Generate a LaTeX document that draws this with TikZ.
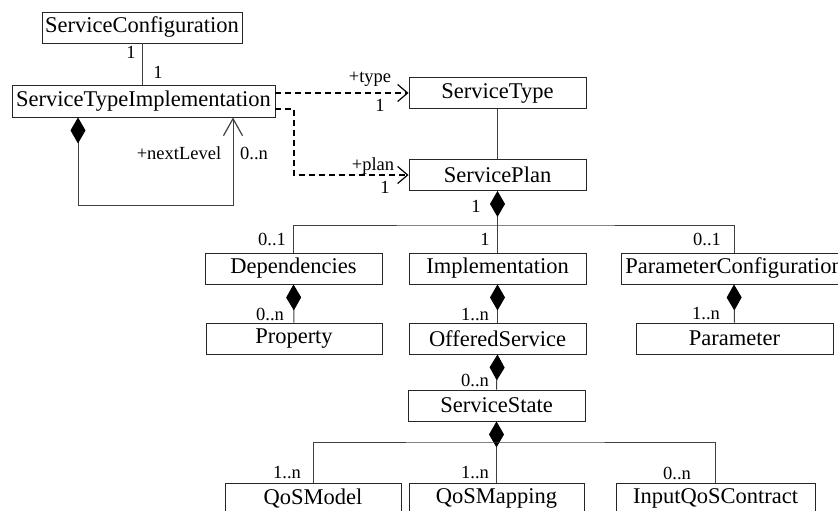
\documentclass[tikz,border=0pt]{standalone}
\usepackage{fontspec}
\setmainfont{Liberation Serif}
\usetikzlibrary{arrows.meta}
\begin{document}
\begin{tikzpicture}[x=1pt,y=-1pt,
  cls/.style={draw=black!85,line width=0.9pt,fill=white,inner sep=0pt,
    minimum height=31pt,font=\fontsize{22.5}{26}\selectfont},
  lbl/.style={inner sep=0pt,font=\fontsize{18.5}{21}\selectfont},
  conn/.style={draw=black!75,line width=1pt},
  comp/.style={conn,{Diamond[length=26pt,width=15pt,fill=black,color=black]}-},
  dep/.style={draw=black,line width=2pt,dash pattern=on 6pt off 4pt,
    -{Straight Barb[length=10pt,width=17pt,line width=1.2pt]}},
  loopnav/.style={conn,{Diamond[length=26pt,width=15pt,fill=black,color=black]}-{Straight Barb[length=17pt,width=19pt,line width=1.2pt]}}
]
\useasboundingbox (0,0) rectangle (838,511);
\clip (0,0) rectangle (838,511);

% classes
\node[cls,minimum width=200pt] (sc)   at (142,27.5)  {ServiceConfiguration};
\node[cls,minimum width=263pt,minimum height=32pt] (sti) at (143.5,101) {ServiceTypeImplementation};
\node[cls,minimum width=177pt] (st)   at (497.5,93)    {ServiceType};
\node[cls,minimum width=177pt] (sp)   at (497.5,175)   {ServicePlan};
\node[cls,minimum width=177pt] (dp)   at (293.5,268.5) {Dependencies};
\node[cls,minimum width=177pt] (impl) at (497.5,268.5) {Implementation};
\node[cls,minimum width=226pt] (pc)   at (734,268.5)   {ParameterConfiguration};
\node[cls,minimum width=176pt] (prop) at (294,338.5)   {Property};
\node[cls,minimum width=177pt] (off)  at (497.5,338.5) {OfferedService};
\node[cls,minimum width=197pt] (par)  at (734.5,338.5) {Parameter};
\node[cls,minimum width=177pt] (ss)   at (496.5,405.5) {ServiceState};
\node[cls,minimum width=176pt] (qm)   at (313,498.5)   {QoSModel};
\node[cls,minimum width=175pt] (qmap) at (496.5,498.5) {QoSMapping};
\node[cls,minimum width=199pt] (iqc)  at (715.5,498.5) {InputQoSContract};

% routing points
\coordinate (plk)  at (294,109);
\coordinate (lpA)  at (78,205);
\coordinate (lpB)  at (233,205);
\coordinate (bar1) at (497.5,225);
\coordinate (bar2) at (496.5,442);

% ServiceConfiguration -- ServiceTypeImplementation
\draw[conn] (sc.south) -- (sc.south |- sti.north);
\node[lbl] (m1) at (131,52) {1};
\node[lbl] (m2) at (158,72) {1};

% dependencies to ServiceType and ServicePlan
\draw[dep] (sti.east |- st.west) -- (st.west);
\node[lbl] (rt) at (370,79) {+type};
\node[lbl] (m3) at (380,105) {1};
\draw[dep] (plk -| sti.east) -- (plk) |- (sp.west);
\node[lbl] (rp) at (373,166) {+plan};
\node[lbl] (m4) at (385,187) {1};

% recursive nextLevel association
\draw[loopnav] (lpA |- sti.south) -- (lpA) -- (lpB) -- (lpB |- sti.south);
\node[lbl] (rn) at (179,153) {+nextLevel};
\node[lbl] (m5) at (254,153) {0..n};

% ServiceType -- ServicePlan
\draw[conn] (st.south) -- (sp.north);

% ServicePlan composition
\draw[comp] (sp.south) -- (impl.north);
\draw[conn] (dp.north) |- (bar1) -| (pc.north);
\node[lbl] (m6) at (476,206) {1};
\node[lbl] (m7) at (485,239) {1};
\node[lbl] (m8) at (272,239) {0..1};
\node[lbl] (m9) at (707,239) {0..1};

% second level
\draw[comp] (dp.south) -- (prop.north);
\draw[comp] (impl.south) -- (off.north);
\draw[comp] (pc.south) -- (par.north);
\node[lbl] (m10) at (270,314) {0..n};
\node[lbl] (m11) at (475,315) {1..n};
\node[lbl] (m12) at (706,314) {1..n};

% OfferedService -- ServiceState
\draw[comp] (off.south) -- (ss.north);
\node[lbl] (m13) at (475,380) {0..n};

% ServiceState composition
\draw[comp] (ss.south) -- (qmap.north);
\draw[conn] (qm.north) |- (bar2) -| (iqc.north);
\node[lbl] (m14) at (287,473) {1..n};
\node[lbl] (m15) at (475,473) {1..n};
\node[lbl] (m16) at (677,473) {0..n};
\end{tikzpicture}
\end{document}
